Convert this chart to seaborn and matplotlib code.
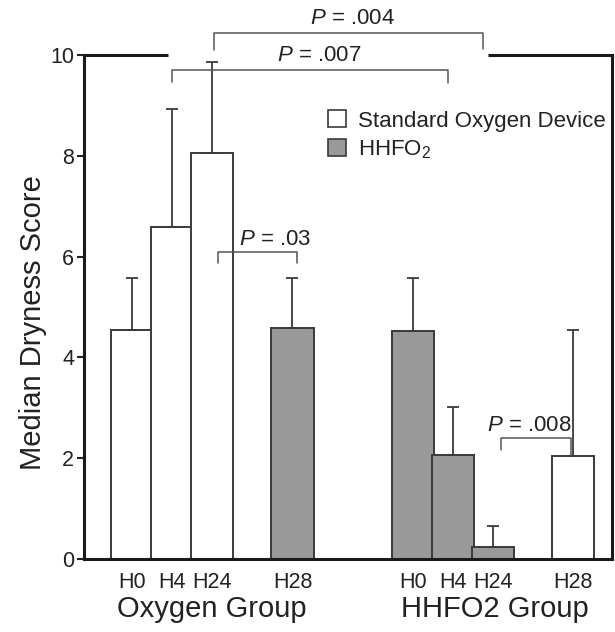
import matplotlib
matplotlib.use("Agg")
import matplotlib.pyplot as plt
import seaborn as sns
import pandas as pd
import numpy as np
from matplotlib.patches import Patch

# ---- data ----
positions = [0, 1, 2, 4, 7, 8, 9, 11]
time_labels = ["H0", "H4", "H24", "H28", "H0", "H4", "H24", "H28"]
scores = [4.55, 6.58, 8.05, 4.58, 4.52, 2.07, 0.24, 2.04]
err_upper = [5.58, 8.93, 9.86, 5.58, 5.58, 3.02, 0.65, 4.54]
device = ["Standard Oxygen Device"] * 3 + ["HHFO2"] + ["HHFO2"] * 3 + ["Standard Oxygen Device"]
group_names = ["Oxygen Group", "HHFO2 Group"]
group_centers = [2.0, 9.05]

# brackets: (x_left, x_right, y_bar, y_leg_bottom_left, y_leg_bottom_right, text, text_x, text_y)
brackets = [
    (2.04, 8.75, 10.44, 10.10, 10.12, ".004", 5.5, 10.72),
    (1.00, 7.88, 9.70, 9.46, 9.44, ".007", 4.66, 9.98),
    (2.14, 4.11, 6.09, 5.87, 5.87, ".03", 3.57, 6.34),
    (9.20, 10.95, 2.40, 2.16, 2.06, ".008", 9.9, 2.64),
]

sns.set_theme(style="white")
plt.rcParams["font.family"] = ["Liberation Sans", "DejaVu Sans"]
plt.rcParams["mathtext.fontset"] = "custom"
plt.rcParams["mathtext.rm"] = "Liberation Sans"
plt.rcParams["mathtext.it"] = "Liberation Sans:italic"

fig = plt.figure(figsize=(6.15, 6.32), dpi=100)
ax = fig.add_axes([0.1366, 0.1155, 0.8585, 0.7975])

df = pd.DataFrame({"pos": positions, "score": scores, "device": device})
pal = {"Standard Oxygen Device": "#ffffff", "HHFO2": "#999999"}
sns.barplot(data=df, x="pos", y="score", hue="device", native_scale=True,
            dodge=False, width=1.05, palette=pal, edgecolor="#3a3a3a",
            linewidth=1.4, errorbar=None, legend=False, ax=ax, zorder=2)

ax.errorbar(positions, scores,
            yerr=[np.zeros(len(scores)), np.array(err_upper) - np.array(scores)],
            fmt="none", ecolor="#3a3a3a", elinewidth=1.3, capsize=4, capthick=1.3, zorder=3)

ax.set_xlim(-1.2, 11.97)
ax.set_ylim(0, 10)
ax.set_yticks([0, 2, 4, 6, 8, 10])
ax.set_yticklabels(["0", "2", "4", "6", "8", "10"], fontsize=15.5, color="#222222")
ax.set_xticks(positions)
ax.set_xticklabels(time_labels, fontsize=15.5, color="#222222")
ax.tick_params(axis="x", length=0, pad=9)
ax.tick_params(axis="y", direction="out", length=5, width=1.5, color="#222222", pad=2, left=True)
ax.set_xlabel("")
ax.set_ylabel("Median Dryness Score", fontsize=21, color="#222222")
ax.yaxis.set_label_coords(-0.07, 0.47)

for s in ["left", "right", "bottom"]:
    ax.spines[s].set_visible(True)
    ax.spines[s].set_linewidth(2.2)
    ax.spines[s].set_color("#1a1a1a")
ax.spines["top"].set_visible(False)
# broken top border
ax.plot([0, 0.159], [1, 1], transform=ax.transAxes, color="#1a1a1a", lw=2.2, clip_on=False,
        solid_capstyle="butt")
ax.plot([0.765, 1.0], [1, 1], transform=ax.transAxes, color="#1a1a1a", lw=2.2, clip_on=False,
        solid_capstyle="butt")

# significance brackets
for xl, xr, yb, yl, yr, txt, tx, ty in brackets:
    ax.plot([xl, xl, xr, xr], [yl, yb, yb, yr], color="#555555", lw=1.1, clip_on=False, zorder=4)
    ax.text(tx, ty, r"$P$ = " + txt, ha="center", va="center", fontsize=16,
            color="#222222", clip_on=False)

# group labels
trans = ax.get_xaxis_transform()
for gx, gname in zip(group_centers, group_names):
    ax.text(gx, -0.1, gname, transform=trans, ha="center", va="center",
            fontsize=21, color="#222222")

# legend
handles = [Patch(facecolor="#ffffff", edgecolor="#3a3a3a", linewidth=1.2),
           Patch(facecolor="#999999", edgecolor="#3a3a3a", linewidth=1.2)]
labels = ["Standard Oxygen Device", r"HHFO$_\mathregular{2}$"]
ax.legend(handles, labels, loc="upper left", bbox_to_anchor=(0.462, 0.89), frameon=False,
          fontsize=16, handlelength=0.8, handleheight=0.8, handletextpad=0.55,
          labelspacing=0.3, borderaxespad=0, borderpad=0, labelcolor="#222222")

fig.savefig("out.png", dpi=100)
